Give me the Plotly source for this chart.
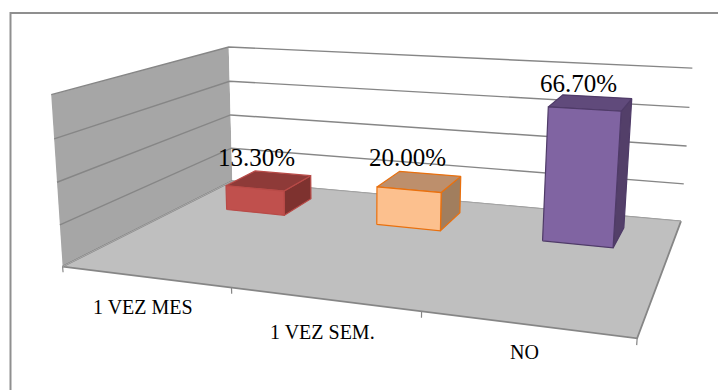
import numpy as np
import plotly.graph_objects as go

# Survey shares per answer, in percent
categories = ["1 VEZ MES", "1 VEZ SEM.", "NO"]
values = [13.3, 20.0, 66.7]
value_labels = ["13.30%", "20.00%", "66.70%"]
grid_values = [0, 20, 40, 60, 80]
axis_max = 80

W, H = 718, 390

# Box coordinates (u along categories, v into depth, w up) tied to canvas pixels
anchors = [
    ((0, 0, 0), (63, 265)),
    ((1, 0, 0), (637, 340)),
    ((1, 1, 0), (681, 219)),
    ((0, 1, 0), (232, 183)),
    ((0, 0, 1), (51, 95)),
    ((0, 1, 1), (229, 46)),
    ((1, 1, 1), (692, 69)),
    ((0, 0, .5), (57, 182)),
    ((1, 1, .5), (687, 146)),
]


def camera_matrix(pairs):
    rows = []
    for (u, v, w), (x, y) in pairs:
        p = [u, v, w, 1]
        rows.append(p + [0, 0, 0, 0] + [-x * c for c in p])
        rows.append([0, 0, 0, 0] + p + [-y * c for c in p])
    return np.linalg.svd(np.array(rows, float))[2][-1].reshape(3, 4)


P = camera_matrix(anchors)


def proj(u, v, w):
    a = P @ np.array([u, v, w, 1.0])
    return a[0] / a[2], a[1] / a[2]


fig = go.Figure()


def poly(points, fill=None, line=None, width=1):
    xy = [proj(*p) for p in points]
    xs = [q[0] for q in xy]
    ys = [q[1] for q in xy]
    if fill:
        xs.append(xs[0])
        ys.append(ys[0])
    fig.add_trace(go.Scatter(
        x=xs, y=ys, mode="lines", hoverinfo="skip", showlegend=False,
        fill="toself" if fill else None, fillcolor=fill,
        line=dict(color=line or "rgba(0,0,0,0)", width=width),
    ))


GRID = "#868686"

# Walls and floor
poly([(0, 0, 0), (0, 1, 0), (0, 1, 1), (0, 0, 1)], fill="#A6A6A6")
poly([(0, 1, 0), (1, 1, 0), (1, 1, 1), (0, 1, 1)], fill="#FFFFFF")
for g in grid_values:
    w = g / axis_max
    poly([(0, 0, w), (0, 1, w), (1, 1, w)], line=GRID, width=1.4)
poly([(0, 0, 0), (1, 0, 0), (1, 1, 0), (0, 1, 0)], fill="#BFBFBF")
poly([(0, 1, 0), (0, 0, 0), (1, 0, 0), (1, 1, 0)], line=GRID, width=1.8)
poly([(0, 1, 0), (1, 1, 0)], line="#A6A6A6", width=0.8)
poly([(0, 0, 0), (0, 1, 0)], line="#B0B0B0", width=0.8)

# Category ticks hang straight down from the front edge
for i in range(len(categories) + 1):
    u = i / len(categories)
    poly([(u, 0, 0), (u, 0, -0.035)], line=GRID, width=1.2)

# Bars: side, top and front faces
bar_styles = [
    dict(front="#C0504D", top="#8E3A38", side="#7E322F", edge="#B84A47"),
    dict(front="#FCC08E", top="#BD8F6C", side="#A17E5E", edge="#E9700E"),
    dict(front="#8064A2", top="#604A7B", side="#533F69", edge="#4F3B68"),
]
half_w = 0.066
v0, v1 = 0.66, 0.87
center_shift = 0.0

for i, val in enumerate(values):
    c = (i + 0.5) / len(values) + center_shift
    u0, u1 = c - half_w, c + half_w
    h = val / axis_max
    s = bar_styles[i]
    poly([(u1, v0, 0), (u1, v1, 0), (u1, v1, h), (u1, v0, h)], fill=s["side"], line=s["edge"], width=1.2)
    poly([(u0, v0, h), (u1, v0, h), (u1, v1, h), (u0, v1, h)], fill=s["top"], line=s["edge"], width=1.2)
    poly([(u0, v0, 0), (u1, v0, 0), (u1, v0, h), (u0, v0, h)], fill=s["front"], line=s["edge"], width=1.2)

# Value labels float above each bar's top face
value_dx = [-13, -12, -12]
value_dy = [-23, -24, -19]
for i, val in enumerate(values):
    c = (i + 0.5) / len(values) + center_shift
    x, y = proj(c, (v0 + v1) / 2, val / axis_max)
    fig.add_annotation(x=x + value_dx[i], y=y + value_dy[i], text=value_labels[i], showarrow=False,
                       font=dict(family="Liberation Serif", size=25, color="#000000"))

# Category labels under the front edge
label_dx = [-2, -1, -1]
label_dy = [30, 33, 28]
for i, name in enumerate(categories):
    x, y = proj((i + 0.5) / len(categories), 0, 0)
    fig.add_annotation(x=x + label_dx[i], y=y + label_dy[i], text=name, showarrow=False,
                       font=dict(family="Liberation Serif", size=20, color="#000000"))

# Frame lines along the top and left edges only
frame = dict(type="line", xref="x", yref="y", line=dict(color="#8F8F8F", width=2))
fig.update_layout(
    width=W, height=H, margin=dict(l=0, r=0, t=0, b=0),
    paper_bgcolor="#FFFFFF", plot_bgcolor="#FFFFFF", showlegend=False,
    xaxis=dict(range=[0, W], visible=False, fixedrange=True),
    yaxis=dict(range=[H, 0], visible=False, fixedrange=True),
    shapes=[dict(frame, x0=10.5, x1=W, y0=13, y1=13),
            dict(frame, x0=10.5, x1=10.5, y0=12, y1=H)],
)

fig.write_html("out.html")
